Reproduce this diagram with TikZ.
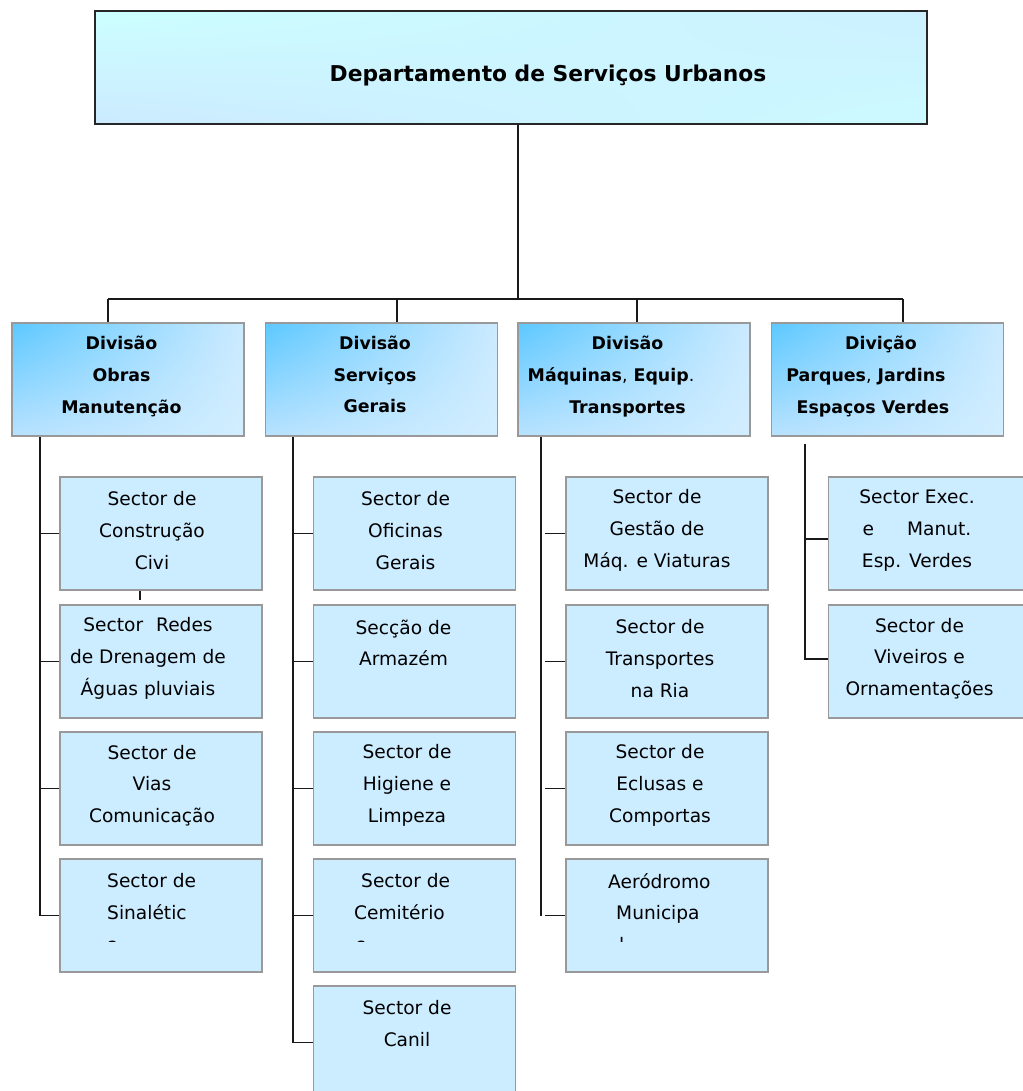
\documentclass[tikz,border=0pt]{standalone}
\usepackage{fontspec}
\setmainfont{DejaVu Sans}
\usetikzlibrary{shadings}
\definecolor{celeste}{HTML}{CCECFF}
\definecolor{titA}{HTML}{CCFFFF}
\definecolor{titB}{HTML}{CCF0FF}
\definecolor{titC}{HTML}{CCEAFF}
\definecolor{titD}{HTML}{CCFAFF}
\definecolor{divA}{HTML}{5CC8FF}
\definecolor{divB}{HTML}{CCEAFF}
\definecolor{divC}{HTML}{B8E2FF}
\definecolor{divD}{HTML}{D2EEFF}
\begin{document}
\begin{tikzpicture}[x=1pt, y=-1pt,
    dept/.style={draw=black!85, line width=2pt, minimum width=832pt, minimum height=113pt,
      upper left=titA, upper right=titB, lower left=titC, lower right=titD},
    titletxt/.style={inner sep=0pt, font=\fontsize{21.8}{26}\selectfont\bfseries},
    divbox/.style={draw=black!40, line width=1.5pt, minimum width=232pt, minimum height=113pt,
      upper left=divA, upper right=divB, lower left=divC, lower right=divD},
    divtxt/.style={inner sep=0pt, align=center, font=\fontsize{17.4}{31.7}\selectfont\bfseries},
    settore/.style={draw=black!40, line width=1.5pt, fill=celeste, minimum width=202pt, minimum height=113pt},
    settxt/.style={inner sep=0pt, align=center, font=\fontsize{18.6}{31.7}\selectfont},
    settxtl/.style={settxt, align=left, anchor=west},
    ramo/.style={line width=1.2pt, black!90}]
  \useasboundingbox (0,0) rectangle (1022,1091);

  % Departamento
  \node[dept] (dep) at (511,67.5) {};
  \node[titletxt] (deptit) at (548,75) {Departamento de Serviços Urbanos};

  % Divisoes
  \node[divbox] (d1) at (128,379.5) {};
  \node[divbox] (d2) at (381.5,379.5) {};
  \node[divbox] (d3) at (634,379.5) {};
  \node[divbox] (d4) at (887.5,379.5) {};
  \node[divtxt] (d1t) at ([xshift=-6.5pt,yshift=3pt]d1) {Divisão\\Obras\\Manutenção};
  \node[divtxt] (d2t) at ([xshift=-6.5pt,yshift=5pt]d2) {Divisão\\Serviços\\Gerais};
  \node[divtxt] (d3t) at ([xshift=-6.5pt,yshift=3pt]d3) {Divisão\\Máquinas{\mdseries,} Equip{\mdseries.}\kern33pt\\Transportes};
  \node[divtxt] (d4t) at ([xshift=-6.5pt,yshift=3pt]d4) {Divição\\Parques{\mdseries,} Jardins\kern30pt\\Espaços Verdes\kern16pt};

  % Sectores (caixas)
  \foreach \nome/\x/\y in {s11/161/533.5, s12/161/661.5, s13/161/788.5, s14/161/915.5,
      s21/414.5/533.5, s22/414.5/661.5, s23/414.5/788.5, s24/414.5/915.5, s25/414.5/1042.5,
      s31/667/533.5, s32/667/661.5, s33/667/788.5, s34/667/915.5,
      s41/929.5/533.5, s42/929.5/661.5} {
    \node[settore] (\nome) at (\x,\y) {};
  }

  % Sectores (textos)
  \foreach \nome/\dx/\testo in {s11/-9/{Sector de\\Construção\\Civi},
      s12/-13/{Sector\hspace{13pt}Redes\\de Drenagem de\\Águas pluviais},
      s13/-9/{Sector de\\Vias\\Comunicação},
      s21/-9/{Sector de\\Oficinas\\Gerais},
      s22/-11/{Secção de\\Armazém\\\mbox{}},
      s23/-7.5/{Sector de\\Higiene e\\Limpeza},
      s25/-7.5/{Sector de\\Canil\\\mbox{}},
      s31/-10/{Sector de\\Gestão de\\Máq. e Viaturas},
      s32/-7/{Sector de\\Transportes\\na Ria},
      s33/-7/{Sector de\\Eclusas e\\Comportas},
      s41/-12.5/{Sector Exec.\\e\hspace{33pt}Manut.\\Esp. Verdes},
      s42/-10/{Sector de\\Viveiros e\\Ornamentações}} {
    \node[settxt] (\nome-t) at ([xshift=\dx pt,yshift=3pt]\nome) {\testo};
  }

  % textos cortados em baixo
  \begin{scope}
    \clip (0,0) rectangle (1022,941);
    \node[settxtl] (s14-t) at (107,912.5) {Sector de\\Sinalétic\\a};
    \node[settxtl] (s24-t) at (354,912.5) {\hspace*{7pt}Sector de\\Cemitério\\\hspace*{2pt}s};
    \node[settxtl] (s34-t) at (608,912.5) {Aeródromo\\\hspace*{8pt}Municipa\\\hspace*{11pt}l};
  \end{scope}

  % Ligacoes Departamento - Divisoes
  \coordinate (j0) at (518,299);
  \coordinate (j1) at (108,299);
  \coordinate (j2) at (397,299);
  \coordinate (j3) at (637,299);
  \coordinate (j4) at (903,299);
  \draw[ramo] (dep.south -| j0) -- (j0);
  \draw[ramo] (j1) -- (j4);
  \foreach \j/\d in {j1/d1, j2/d2, j3/d3, j4/d4}
    \draw[ramo] (\j) -- (\j |- \d.north);

  % Ligacoes Divisoes - Sectores
  \coordinate (t1) at (40,0);
  \coordinate (t2) at (293,0);
  \coordinate (t3) at (541,0);
  \coordinate (t4) at (805,0);
  \draw[ramo] (d1.south -| t1) |- (s14.west);
  \foreach \s in {s11,s12,s13}
    \draw[ramo] (\s.west) -- (\s.west -| t1);
  \draw[ramo] ([xshift=-21pt]s11.south) -- ++(0,9);
  \draw[ramo] (d2.south -| t2) |- (s25.west);
  \foreach \s in {s21,s22,s23,s24}
    \draw[ramo] (\s.west) -- (\s.west -| t2);
  \draw[ramo] (d3.south -| t3) -- (s34.west -| t3);
  \foreach \s in {s31,s32,s33,s34}
    \draw[ramo] (\s.west) -- ([xshift=4pt]\s.west -| t3);
  \draw[ramo] ([yshift=-7pt]d4.south -| t4) |- ([yshift=2.5pt]s42.west);
  \draw[ramo] ([yshift=-5.5pt]s41.west) -- ([yshift=-5.5pt]s41.west -| t4);

\end{tikzpicture}
\end{document}
